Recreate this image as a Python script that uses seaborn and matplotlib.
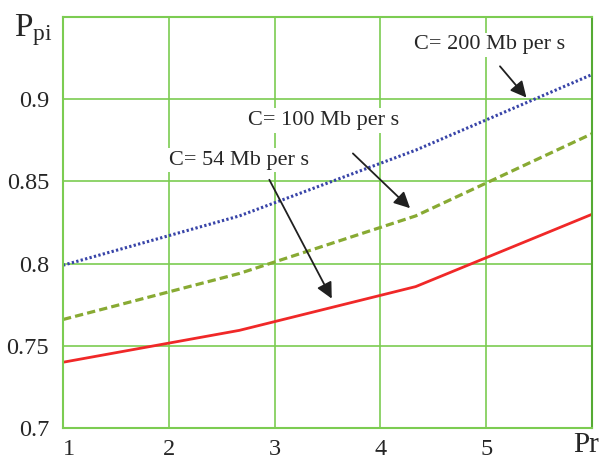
import numpy as np
import pandas as pd
import matplotlib
matplotlib.use("Agg")
import matplotlib.pyplot as plt
import seaborn as sns

# data
pr = [1.0, 2.667, 4.333, 6.0]
p_54 = [0.740, 0.7594, 0.786, 0.830]
p_100 = [0.766, 0.794, 0.829, 0.879]
p_200 = [0.799, 0.829, 0.869, 0.915]

x_ticks = [1, 2, 3, 4, 5, 6]
x_labels = ["1", "2", "3", "4", "5", ""]
y_ticks = [0.7, 0.75, 0.8, 0.85, 0.9]
y_labels = ["0.7", "0.75", "0.8", "0.85", "0.9"]

sns.set_style("white")
plt.rcParams['font.family'] = ['Liberation Serif', 'DejaVu Serif']
plt.rcParams['mathtext.fontset'] = 'custom'
plt.rcParams['mathtext.rm'] = 'Liberation Serif'

df = pd.DataFrame({"Pr": pr * 3,
                   "P": p_54 + p_100 + p_200,
                   "C": ["54"] * 4 + ["100"] * 4 + ["200"] * 4})

fig = plt.figure(figsize=(6.03, 4.59), dpi=100)
ax = fig.add_axes([0.1045, 0.0675, 0.8773, 0.8955])

grid_col = '#7ccc52'
ax.set_xlim(1, 6)
ax.set_ylim(0.7, 0.95)
ax.set_xticks(x_ticks)
ax.set_yticks(y_ticks + [0.95])
ax.grid(True, color=grid_col, lw=1.2, zorder=0)
ax.set_axisbelow(True)
for s in ax.spines.values():
    s.set_color(grid_col)
    s.set_linewidth(1.5)
ax.spines['right'].set_color('#55aa33')

sns.lineplot(data=df[df.C == "54"], x="Pr", y="P", ax=ax, color='#f02828', lw=2, legend=False)
sns.lineplot(data=df[df.C == "100"], x="Pr", y="P", ax=ax, color='#88aa33', lw=2.3,
             legend=False)
sns.lineplot(data=df[df.C == "200"], x="Pr", y="P", ax=ax, color='#3844a8', lw=2.2,
             legend=False)
ax.lines[1].set_dashes([2.6, 1.3])
ax.lines[2].set_dashes([0.75, 0.75])

ax.set_xticklabels(x_labels, fontsize=17.5)
ax.set_yticklabels(y_labels + [""], fontsize=17.5)
ax.get_xticklabels()[0].set_horizontalalignment('left')
ax.tick_params(axis='both', length=0)
ax.tick_params(axis='y', pad=10)
ax.tick_params(axis='x', pad=8)
ax.set_xlabel("")
ax.set_ylabel("")

fig.text(14 / 603, 1 - 36 / 459, r"$\mathrm{P_{pi}}$", fontsize=24,
         ha='left', va='baseline')
fig.text(599 / 603, 1 - 452 / 459, "Pr", fontsize=21, ha='right', va='baseline')

box = dict(facecolor='white', edgecolor='none', pad=2)
ax.text(5.03, 0.933, "C= 200 Mb per s", fontsize=16, ha='center', va='center', bbox=box)
ax.text(3.46, 0.887, "C= 100 Mb per s", fontsize=16, ha='center', va='center', bbox=box)
ax.text(2.66, 0.863, "C= 54 Mb per s", fontsize=16, ha='center', va='center', bbox=box)

arrow = dict(arrowstyle='-|>', color='#202020', lw=1.3, mutation_scale=24,
             shrinkA=0, shrinkB=0)
ax.annotate("", xy=(5.38, 0.901), xytext=(5.13, 0.92), arrowprops=arrow)
ax.annotate("", xy=(4.28, 0.8337), xytext=(3.74, 0.867), arrowprops=arrow)
ax.annotate("", xy=(3.54, 0.7787), xytext=(2.95, 0.851), arrowprops=arrow)

plt.savefig("out.png", dpi=100)
